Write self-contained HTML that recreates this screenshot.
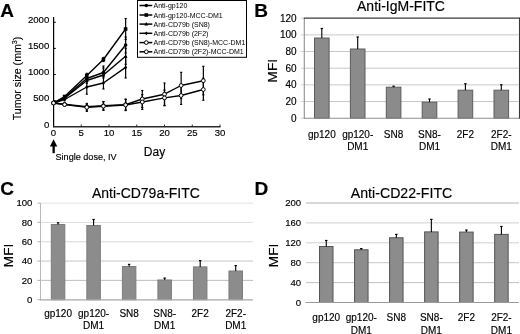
<!DOCTYPE html>
<html><head><meta charset="utf-8"><style>
html,body{margin:0;padding:0;background:#fff;}
svg{display:block;will-change:transform;}
text{font-family:"Liberation Sans", sans-serif;stroke:#000;stroke-width:0.15px;}
</style></head><body>
<svg width="520" height="334" viewBox="0 0 520 334" font-family="Liberation Sans, sans-serif">
<rect width="520" height="334" fill="#fff"/>
<text x="0.2" y="16.8" font-size="19" text-anchor="start" font-weight="bold" fill="#000" >A</text>
<line x1="53.6" y1="17" x2="53.6" y2="127.3" stroke="#000" stroke-width="1.2" />
<line x1="53" y1="126.7" x2="220.5" y2="126.7" stroke="#2a2a2a" stroke-width="1.5" />
<line x1="53.6" y1="100.6" x2="55.8" y2="100.6" stroke="#000" stroke-width="1" />
<line x1="53.6" y1="74.5" x2="55.8" y2="74.5" stroke="#000" stroke-width="1" />
<line x1="53.6" y1="48.39999999999999" x2="55.8" y2="48.39999999999999" stroke="#000" stroke-width="1" />
<line x1="53.6" y1="22.299999999999997" x2="55.8" y2="22.299999999999997" stroke="#000" stroke-width="1" />
<line x1="81.25" y1="126.7" x2="81.25" y2="124.6" stroke="#222" stroke-width="1" />
<line x1="109.0" y1="126.7" x2="109.0" y2="124.6" stroke="#222" stroke-width="1" />
<line x1="136.75" y1="126.7" x2="136.75" y2="124.6" stroke="#222" stroke-width="1" />
<line x1="164.5" y1="126.7" x2="164.5" y2="124.6" stroke="#222" stroke-width="1" />
<line x1="192.25" y1="126.7" x2="192.25" y2="124.6" stroke="#222" stroke-width="1" />
<line x1="220.0" y1="126.7" x2="220.0" y2="124.6" stroke="#222" stroke-width="1" />
<text x="49.3" y="127.5" font-size="9.6" text-anchor="end" font-weight="normal" fill="#000" >0</text>
<text x="49.3" y="101.39999999999999" font-size="9.6" text-anchor="end" font-weight="normal" fill="#000" >500</text>
<text x="49.3" y="75.3" font-size="9.6" text-anchor="end" font-weight="normal" fill="#000" >1000</text>
<text x="49.3" y="49.19999999999999" font-size="9.6" text-anchor="end" font-weight="normal" fill="#000" >1500</text>
<text x="49.3" y="23.099999999999998" font-size="9.6" text-anchor="end" font-weight="normal" fill="#000" >2000</text>
<text x="53.5" y="135.9" font-size="9.6" text-anchor="middle" font-weight="normal" fill="#000" >0</text>
<text x="81.25" y="135.9" font-size="9.6" text-anchor="middle" font-weight="normal" fill="#000" >5</text>
<text x="109.0" y="135.9" font-size="9.6" text-anchor="middle" font-weight="normal" fill="#000" >10</text>
<text x="136.75" y="135.9" font-size="9.6" text-anchor="middle" font-weight="normal" fill="#000" >15</text>
<text x="164.5" y="135.9" font-size="9.6" text-anchor="middle" font-weight="normal" fill="#000" >20</text>
<text x="192.25" y="135.9" font-size="9.6" text-anchor="middle" font-weight="normal" fill="#000" >25</text>
<text x="220.0" y="135.9" font-size="9.6" text-anchor="middle" font-weight="normal" fill="#000" >30</text>
<text x="154.5" y="156" font-size="12" text-anchor="middle" font-weight="normal" fill="#000" >Day</text>
<text transform="translate(20.8,78.5) rotate(-90)" font-size="10.6" text-anchor="middle">Tumor size (mm<tspan font-size="7.2" dy="-3.9">3</tspan><tspan dy="3.9">)</tspan></text>
<polygon points="53.6,139.3 49.9,146.6 57.3,146.6" fill="#000"/>
<rect x="52.5" y="146" width="2.3" height="7.2" fill="#000"/>
<text x="55.5" y="159.6" font-size="9.1" text-anchor="start" font-weight="normal" fill="#000" >Single dose, IV</text>
<line x1="64.6" y1="95.8" x2="64.6" y2="99.5" stroke="#000" stroke-width="1.2" />
<line x1="63.49999999999999" y1="95.8" x2="65.69999999999999" y2="95.8" stroke="#000" stroke-width="1.1" />
<line x1="63.49999999999999" y1="99.5" x2="65.69999999999999" y2="99.5" stroke="#000" stroke-width="1.1" />
<line x1="64.6" y1="96.5" x2="64.6" y2="100.8" stroke="#000" stroke-width="1.2" />
<line x1="63.49999999999999" y1="96.5" x2="65.69999999999999" y2="96.5" stroke="#000" stroke-width="1.1" />
<line x1="63.49999999999999" y1="100.8" x2="65.69999999999999" y2="100.8" stroke="#000" stroke-width="1.1" />
<line x1="86.8" y1="73.3" x2="86.8" y2="77.7" stroke="#000" stroke-width="1.2" />
<line x1="85.7" y1="73.3" x2="87.89999999999999" y2="73.3" stroke="#000" stroke-width="1.1" />
<line x1="85.7" y1="77.7" x2="87.89999999999999" y2="77.7" stroke="#000" stroke-width="1.1" />
<line x1="86.8" y1="74.5" x2="86.8" y2="80.5" stroke="#000" stroke-width="1.2" />
<line x1="85.7" y1="74.5" x2="87.89999999999999" y2="74.5" stroke="#000" stroke-width="1.1" />
<line x1="85.7" y1="80.5" x2="87.89999999999999" y2="80.5" stroke="#000" stroke-width="1.1" />
<line x1="86.8" y1="75.5" x2="86.8" y2="83.5" stroke="#000" stroke-width="1.2" />
<line x1="85.7" y1="75.5" x2="87.89999999999999" y2="75.5" stroke="#000" stroke-width="1.1" />
<line x1="85.7" y1="83.5" x2="87.89999999999999" y2="83.5" stroke="#000" stroke-width="1.1" />
<line x1="86.8" y1="81.8" x2="86.8" y2="94.2" stroke="#000" stroke-width="1.2" />
<line x1="85.7" y1="81.8" x2="87.89999999999999" y2="81.8" stroke="#000" stroke-width="1.1" />
<line x1="85.7" y1="94.2" x2="87.89999999999999" y2="94.2" stroke="#000" stroke-width="1.1" />
<line x1="86.8" y1="103.4" x2="86.8" y2="110.2" stroke="#000" stroke-width="1.2" />
<line x1="85.7" y1="103.4" x2="87.89999999999999" y2="103.4" stroke="#000" stroke-width="1.1" />
<line x1="85.7" y1="110.2" x2="87.89999999999999" y2="110.2" stroke="#000" stroke-width="1.1" />
<line x1="86.8" y1="104" x2="86.8" y2="111.4" stroke="#000" stroke-width="1.2" />
<line x1="85.7" y1="104" x2="87.89999999999999" y2="104" stroke="#000" stroke-width="1.1" />
<line x1="85.7" y1="111.4" x2="87.89999999999999" y2="111.4" stroke="#000" stroke-width="1.1" />
<line x1="103.44999999999999" y1="57.4" x2="103.44999999999999" y2="61.6" stroke="#000" stroke-width="1.2" />
<line x1="102.35" y1="57.4" x2="104.54999999999998" y2="57.4" stroke="#000" stroke-width="1.1" />
<line x1="102.35" y1="61.6" x2="104.54999999999998" y2="61.6" stroke="#000" stroke-width="1.1" />
<line x1="103.44999999999999" y1="66" x2="103.44999999999999" y2="76" stroke="#000" stroke-width="1.2" />
<line x1="102.35" y1="66" x2="104.54999999999998" y2="66" stroke="#000" stroke-width="1.1" />
<line x1="102.35" y1="76" x2="104.54999999999998" y2="76" stroke="#000" stroke-width="1.1" />
<line x1="103.44999999999999" y1="68" x2="103.44999999999999" y2="78" stroke="#000" stroke-width="1.2" />
<line x1="102.35" y1="68" x2="104.54999999999998" y2="68" stroke="#000" stroke-width="1.1" />
<line x1="102.35" y1="78" x2="104.54999999999998" y2="78" stroke="#000" stroke-width="1.1" />
<line x1="103.44999999999999" y1="75" x2="103.44999999999999" y2="89" stroke="#000" stroke-width="1.2" />
<line x1="102.35" y1="75" x2="104.54999999999998" y2="75" stroke="#000" stroke-width="1.1" />
<line x1="102.35" y1="89" x2="104.54999999999998" y2="89" stroke="#000" stroke-width="1.1" />
<line x1="103.44999999999999" y1="101.7" x2="103.44999999999999" y2="109.9" stroke="#000" stroke-width="1.2" />
<line x1="102.35" y1="101.7" x2="104.54999999999998" y2="101.7" stroke="#000" stroke-width="1.1" />
<line x1="102.35" y1="109.9" x2="104.54999999999998" y2="109.9" stroke="#000" stroke-width="1.1" />
<line x1="103.44999999999999" y1="101.6" x2="103.44999999999999" y2="110.4" stroke="#000" stroke-width="1.2" />
<line x1="102.35" y1="101.6" x2="104.54999999999998" y2="101.6" stroke="#000" stroke-width="1.1" />
<line x1="102.35" y1="110.4" x2="104.54999999999998" y2="110.4" stroke="#000" stroke-width="1.1" />
<line x1="125.64999999999999" y1="18.5" x2="125.64999999999999" y2="39.5" stroke="#000" stroke-width="1.2" />
<line x1="124.55" y1="18.5" x2="126.74999999999999" y2="18.5" stroke="#000" stroke-width="1.1" />
<line x1="124.55" y1="39.5" x2="126.74999999999999" y2="39.5" stroke="#000" stroke-width="1.1" />
<line x1="125.64999999999999" y1="37" x2="125.64999999999999" y2="53" stroke="#000" stroke-width="1.2" />
<line x1="124.55" y1="37" x2="126.74999999999999" y2="37" stroke="#000" stroke-width="1.1" />
<line x1="124.55" y1="53" x2="126.74999999999999" y2="53" stroke="#000" stroke-width="1.1" />
<line x1="125.64999999999999" y1="48.3" x2="125.64999999999999" y2="64.3" stroke="#000" stroke-width="1.2" />
<line x1="124.55" y1="48.3" x2="126.74999999999999" y2="48.3" stroke="#000" stroke-width="1.1" />
<line x1="124.55" y1="64.3" x2="126.74999999999999" y2="64.3" stroke="#000" stroke-width="1.1" />
<line x1="125.64999999999999" y1="56.8" x2="125.64999999999999" y2="78" stroke="#000" stroke-width="1.2" />
<line x1="124.55" y1="56.8" x2="126.74999999999999" y2="56.8" stroke="#000" stroke-width="1.1" />
<line x1="124.55" y1="78" x2="126.74999999999999" y2="78" stroke="#000" stroke-width="1.1" />
<line x1="125.64999999999999" y1="99.1" x2="125.64999999999999" y2="109.9" stroke="#000" stroke-width="1.2" />
<line x1="124.55" y1="99.1" x2="126.74999999999999" y2="99.1" stroke="#000" stroke-width="1.1" />
<line x1="124.55" y1="109.9" x2="126.74999999999999" y2="109.9" stroke="#000" stroke-width="1.1" />
<line x1="125.64999999999999" y1="99.4" x2="125.64999999999999" y2="110.6" stroke="#000" stroke-width="1.2" />
<line x1="124.55" y1="99.4" x2="126.74999999999999" y2="99.4" stroke="#000" stroke-width="1.1" />
<line x1="124.55" y1="110.6" x2="126.74999999999999" y2="110.6" stroke="#000" stroke-width="1.1" />
<line x1="142.3" y1="90.5" x2="142.3" y2="107.5" stroke="#000" stroke-width="1.2" />
<line x1="141.20000000000002" y1="90.5" x2="143.4" y2="90.5" stroke="#000" stroke-width="1.1" />
<line x1="141.20000000000002" y1="107.5" x2="143.4" y2="107.5" stroke="#000" stroke-width="1.1" />
<line x1="142.3" y1="94.6" x2="142.3" y2="109.4" stroke="#000" stroke-width="1.2" />
<line x1="141.20000000000002" y1="94.6" x2="143.4" y2="94.6" stroke="#000" stroke-width="1.1" />
<line x1="141.20000000000002" y1="109.4" x2="143.4" y2="109.4" stroke="#000" stroke-width="1.1" />
<line x1="164.5" y1="83" x2="164.5" y2="105.4" stroke="#000" stroke-width="1.2" />
<line x1="163.4" y1="83" x2="165.6" y2="83" stroke="#000" stroke-width="1.1" />
<line x1="163.4" y1="105.4" x2="165.6" y2="105.4" stroke="#000" stroke-width="1.1" />
<line x1="164.5" y1="90" x2="164.5" y2="105.8" stroke="#000" stroke-width="1.2" />
<line x1="163.4" y1="90" x2="165.6" y2="90" stroke="#000" stroke-width="1.1" />
<line x1="163.4" y1="105.8" x2="165.6" y2="105.8" stroke="#000" stroke-width="1.1" />
<line x1="181.14999999999998" y1="72.3" x2="181.14999999999998" y2="98.7" stroke="#000" stroke-width="1.2" />
<line x1="180.04999999999998" y1="72.3" x2="182.24999999999997" y2="72.3" stroke="#000" stroke-width="1.1" />
<line x1="180.04999999999998" y1="98.7" x2="182.24999999999997" y2="98.7" stroke="#000" stroke-width="1.1" />
<line x1="181.14999999999998" y1="86.4" x2="181.14999999999998" y2="104.4" stroke="#000" stroke-width="1.2" />
<line x1="180.04999999999998" y1="86.4" x2="182.24999999999997" y2="86.4" stroke="#000" stroke-width="1.1" />
<line x1="180.04999999999998" y1="104.4" x2="182.24999999999997" y2="104.4" stroke="#000" stroke-width="1.1" />
<line x1="203.35" y1="66.3" x2="203.35" y2="94.9" stroke="#000" stroke-width="1.2" />
<line x1="202.25" y1="66.3" x2="204.45" y2="66.3" stroke="#000" stroke-width="1.1" />
<line x1="202.25" y1="94.9" x2="204.45" y2="94.9" stroke="#000" stroke-width="1.1" />
<line x1="203.35" y1="78.3" x2="203.35" y2="100.3" stroke="#000" stroke-width="1.2" />
<line x1="202.25" y1="78.3" x2="204.45" y2="78.3" stroke="#000" stroke-width="1.1" />
<line x1="202.25" y1="100.3" x2="204.45" y2="100.3" stroke="#000" stroke-width="1.1" />
<polyline points="53.5,103 64.6,97.5 86.8,78.5 103.4,72.5 125.6,45" fill="none" stroke="#000" stroke-width="1.4" stroke-linejoin="round"/>
<polyline points="53.5,103 64.6,96.5 86.8,75.5 103.4,59.5 125.6,29" fill="none" stroke="#000" stroke-width="1.4" stroke-linejoin="round"/>
<polyline points="53.5,103 64.6,98.2 86.8,80.5 103.4,75 125.6,56.3" fill="none" stroke="#000" stroke-width="1.4" stroke-linejoin="round"/>
<polyline points="53.5,103 64.6,99.5 86.8,87 103.4,83 125.6,67.4" fill="none" stroke="#000" stroke-width="1.4" stroke-linejoin="round"/>
<polyline points="53.5,103 64.6,104.3 86.8,106.8 103.4,105.8 125.6,104.6 142.3,99 164.5,94.2 181.1,85.5 203.3,80.7" fill="none" stroke="#000" stroke-width="1.4" stroke-linejoin="round"/>
<polyline points="53.5,103 64.6,104.6 86.8,107.4 103.4,106.2 125.6,105 142.3,102 164.5,97.9 181.1,95.5 203.3,89.5" fill="none" stroke="#000" stroke-width="1.4" stroke-linejoin="round"/>
<circle cx="53.5" cy="103" r="1.8" fill="#000"/>
<circle cx="64.6" cy="97.5" r="1.8" fill="#000"/>
<circle cx="86.8" cy="78.5" r="1.8" fill="#000"/>
<circle cx="103.4" cy="72.5" r="1.8" fill="#000"/>
<circle cx="125.6" cy="45" r="1.8" fill="#000"/>
<rect x="51.7" y="101.2" width="3.6" height="3.6" fill="#000"/>
<rect x="62.8" y="94.7" width="3.6" height="3.6" fill="#000"/>
<rect x="85.0" y="73.7" width="3.6" height="3.6" fill="#000"/>
<rect x="101.6" y="57.7" width="3.6" height="3.6" fill="#000"/>
<rect x="123.8" y="27.2" width="3.6" height="3.6" fill="#000"/>
<polygon points="53.5,101 51.6,104.4 55.4,104.4" fill="#000"/>
<polygon points="64.6,96.2 62.7,99.60000000000001 66.5,99.60000000000001" fill="#000"/>
<polygon points="86.8,78.5 84.9,81.9 88.7,81.9" fill="#000"/>
<polygon points="103.4,73 101.5,76.4 105.3,76.4" fill="#000"/>
<polygon points="125.6,54.3 123.7,57.699999999999996 127.5,57.699999999999996" fill="#000"/>
<polygon points="53.5,101.1 55.1,103 53.5,104.9 51.9,103" fill="#000"/>
<polygon points="64.6,97.6 66.2,99.5 64.6,101.4 63.0,99.5" fill="#000"/>
<polygon points="86.8,85.1 88.4,87 86.8,88.9 85.2,87" fill="#000"/>
<polygon points="103.4,81.1 105.0,83 103.4,84.9 101.8,83" fill="#000"/>
<polygon points="125.6,65.5 127.2,67.4 125.6,69.30000000000001 124.0,67.4" fill="#000"/>
<circle cx="53.5" cy="103" r="1.9" fill="#fff" stroke="#000" stroke-width="1"/>
<circle cx="64.6" cy="104.3" r="1.9" fill="#fff" stroke="#000" stroke-width="1"/>
<circle cx="86.8" cy="106.8" r="1.9" fill="#fff" stroke="#000" stroke-width="1"/>
<circle cx="103.4" cy="105.8" r="1.9" fill="#fff" stroke="#000" stroke-width="1"/>
<circle cx="125.6" cy="104.6" r="1.9" fill="#fff" stroke="#000" stroke-width="1"/>
<circle cx="142.3" cy="99" r="1.9" fill="#fff" stroke="#000" stroke-width="1"/>
<circle cx="164.5" cy="94.2" r="1.9" fill="#fff" stroke="#000" stroke-width="1"/>
<circle cx="181.1" cy="85.5" r="1.9" fill="#fff" stroke="#000" stroke-width="1"/>
<circle cx="203.3" cy="80.7" r="1.9" fill="#fff" stroke="#000" stroke-width="1"/>
<circle cx="53.5" cy="103" r="1.9" fill="#fff" stroke="#000" stroke-width="1"/>
<circle cx="64.6" cy="104.6" r="1.9" fill="#fff" stroke="#000" stroke-width="1"/>
<circle cx="86.8" cy="107.4" r="1.9" fill="#fff" stroke="#000" stroke-width="1"/>
<circle cx="103.4" cy="106.2" r="1.9" fill="#fff" stroke="#000" stroke-width="1"/>
<circle cx="125.6" cy="105" r="1.9" fill="#fff" stroke="#000" stroke-width="1"/>
<circle cx="142.3" cy="102" r="1.9" fill="#fff" stroke="#000" stroke-width="1"/>
<circle cx="164.5" cy="97.9" r="1.9" fill="#fff" stroke="#000" stroke-width="1"/>
<circle cx="181.1" cy="95.5" r="1.9" fill="#fff" stroke="#000" stroke-width="1"/>
<circle cx="203.3" cy="89.5" r="1.9" fill="#fff" stroke="#000" stroke-width="1"/>
<rect x="137.5" y="0.5" width="109" height="56.8" fill="#fff" stroke="#000" stroke-width="1"/>
<line x1="139.5" y1="5.5" x2="152.3" y2="5.5" stroke="#000" stroke-width="1.5" />
<circle cx="146.3" cy="5.5" r="1.8" fill="#000"/>
<text x="153.5" y="8.0" font-size="7" text-anchor="start" font-weight="normal" fill="#000" style="stroke:none">Anti-gp120</text>
<line x1="139.5" y1="15" x2="152.3" y2="15" stroke="#000" stroke-width="1.5" />
<rect x="144.5" y="13.2" width="3.6" height="3.6" fill="#000"/>
<text x="153.5" y="17.5" font-size="7" text-anchor="start" font-weight="normal" fill="#000" style="stroke:none">Anti-gp120-MCC-DM1</text>
<line x1="139.5" y1="24.1" x2="152.3" y2="24.1" stroke="#000" stroke-width="1.5" />
<polygon points="146.3,22.1 144.4,25.5 148.2,25.5" fill="#000"/>
<text x="153.5" y="26.6" font-size="7" text-anchor="start" font-weight="normal" fill="#000" style="stroke:none">Anti-CD79b (SN8)</text>
<line x1="139.5" y1="33.3" x2="152.3" y2="33.3" stroke="#000" stroke-width="1.5" />
<polygon points="146.3,31.4 147.9,33.3 146.3,35.199999999999996 144.7,33.3" fill="#000"/>
<text x="153.5" y="35.8" font-size="7" text-anchor="start" font-weight="normal" fill="#000" style="stroke:none">Anti-CD79b (2F2)</text>
<line x1="139.5" y1="42.6" x2="152.3" y2="42.6" stroke="#000" stroke-width="1.5" />
<circle cx="146.3" cy="42.6" r="1.9" fill="#fff" stroke="#000" stroke-width="1"/>
<text x="153.5" y="45.1" font-size="7" text-anchor="start" font-weight="normal" fill="#000" style="stroke:none">Anti-CD79b (SN8)-MCC-DM1</text>
<line x1="139.5" y1="51.8" x2="152.3" y2="51.8" stroke="#000" stroke-width="1.5" />
<circle cx="146.3" cy="51.8" r="1.9" fill="#fff" stroke="#000" stroke-width="1"/>
<text x="153.5" y="54.3" font-size="7" text-anchor="start" font-weight="normal" fill="#000" style="stroke:none">Anti-CD79b (2F2)-MCC-DM1</text>
<text x="254.3" y="16.6" font-size="19" text-anchor="start" font-weight="bold" fill="#000" >B</text>
<text x="357" y="10.6" font-size="13.8" text-anchor="start" font-weight="normal" fill="#000" textLength="88" lengthAdjust="spacingAndGlyphs">Anti-IgM-FITC</text>
<line x1="304.5" y1="101.53333333333333" x2="518.5" y2="101.53333333333333" stroke="#c8c8c8" stroke-width="1" />
<line x1="304.5" y1="84.86666666666667" x2="518.5" y2="84.86666666666667" stroke="#c8c8c8" stroke-width="1" />
<line x1="304.5" y1="68.2" x2="518.5" y2="68.2" stroke="#c8c8c8" stroke-width="1" />
<line x1="304.5" y1="51.53333333333333" x2="518.5" y2="51.53333333333333" stroke="#c8c8c8" stroke-width="1" />
<line x1="304.5" y1="34.86666666666666" x2="518.5" y2="34.86666666666666" stroke="#c8c8c8" stroke-width="1" />
<line x1="300.8" y1="118.2" x2="304.3" y2="118.2" stroke="#d4d4d4" stroke-width="1" />
<text x="296.6" y="121.7" font-size="10" text-anchor="end" font-weight="normal" fill="#000" >0</text>
<line x1="300.8" y1="101.53333333333333" x2="304.3" y2="101.53333333333333" stroke="#d4d4d4" stroke-width="1" />
<text x="296.6" y="105.03333333333333" font-size="10" text-anchor="end" font-weight="normal" fill="#000" >20</text>
<line x1="300.8" y1="84.86666666666667" x2="304.3" y2="84.86666666666667" stroke="#d4d4d4" stroke-width="1" />
<text x="296.6" y="88.36666666666667" font-size="10" text-anchor="end" font-weight="normal" fill="#000" >40</text>
<line x1="300.8" y1="68.2" x2="304.3" y2="68.2" stroke="#d4d4d4" stroke-width="1" />
<text x="296.6" y="71.7" font-size="10" text-anchor="end" font-weight="normal" fill="#000" >60</text>
<line x1="300.8" y1="51.53333333333333" x2="304.3" y2="51.53333333333333" stroke="#d4d4d4" stroke-width="1" />
<text x="296.6" y="55.03333333333333" font-size="10" text-anchor="end" font-weight="normal" fill="#000" >80</text>
<line x1="300.8" y1="34.86666666666666" x2="304.3" y2="34.86666666666666" stroke="#d4d4d4" stroke-width="1" />
<text x="296.6" y="38.36666666666666" font-size="10" text-anchor="end" font-weight="normal" fill="#000" >100</text>
<line x1="300.8" y1="18.200000000000003" x2="304.3" y2="18.200000000000003" stroke="#d4d4d4" stroke-width="1" />
<text x="296.6" y="21.700000000000003" font-size="10" text-anchor="end" font-weight="normal" fill="#000" >120</text>
<rect x="314.50" y="38" width="14.6" height="80.20" fill="#8b8b8b" stroke="#5c5c5c" stroke-width="1"/>
<line x1="321.8" y1="28.5" x2="321.8" y2="38" stroke="#000" stroke-width="1.1" />
<line x1="320.6" y1="28.5" x2="323.0" y2="28.5" stroke="#000" stroke-width="1.2" />
<rect x="350.40" y="49" width="14.6" height="69.20" fill="#8b8b8b" stroke="#5c5c5c" stroke-width="1"/>
<line x1="357.70000000000005" y1="37" x2="357.70000000000005" y2="49" stroke="#000" stroke-width="1.1" />
<line x1="356.50000000000006" y1="37" x2="358.90000000000003" y2="37" stroke="#000" stroke-width="1.2" />
<rect x="386.30" y="87.2" width="14.6" height="31.00" fill="#8b8b8b" stroke="#5c5c5c" stroke-width="1"/>
<line x1="393.6" y1="86.2" x2="393.6" y2="87.2" stroke="#000" stroke-width="1.1" />
<line x1="392.40000000000003" y1="86.2" x2="394.8" y2="86.2" stroke="#000" stroke-width="1.2" />
<rect x="422.20" y="102.2" width="14.6" height="16.00" fill="#8b8b8b" stroke="#5c5c5c" stroke-width="1"/>
<line x1="429.5" y1="99" x2="429.5" y2="102.2" stroke="#000" stroke-width="1.1" />
<line x1="428.3" y1="99" x2="430.7" y2="99" stroke="#000" stroke-width="1.2" />
<rect x="458.10" y="90.2" width="14.6" height="28.00" fill="#8b8b8b" stroke="#5c5c5c" stroke-width="1"/>
<line x1="465.4" y1="83.8" x2="465.4" y2="90.2" stroke="#000" stroke-width="1.1" />
<line x1="464.2" y1="83.8" x2="466.59999999999997" y2="83.8" stroke="#000" stroke-width="1.2" />
<rect x="494.00" y="90.2" width="14.6" height="28.00" fill="#8b8b8b" stroke="#5c5c5c" stroke-width="1"/>
<line x1="501.3" y1="84.8" x2="501.3" y2="90.2" stroke="#000" stroke-width="1.1" />
<line x1="500.1" y1="84.8" x2="502.5" y2="84.8" stroke="#000" stroke-width="1.2" />
<line x1="304.3" y1="18.2" x2="304.3" y2="118.7" stroke="#8f8f8f" stroke-width="1.1" />
<line x1="303.8" y1="118.2" x2="519" y2="118.2" stroke="#8f8f8f" stroke-width="1.1" />
<line x1="303.8" y1="18.2" x2="519.5" y2="18.2" stroke="#3a3a3a" stroke-width="1.2" />
<line x1="519.5" y1="17.6" x2="519.5" y2="118.7" stroke="#3a3a3a" stroke-width="1.1" />
<text transform="translate(276.6,70.7) rotate(-90)" font-size="13" text-anchor="middle" textLength="23.5" lengthAdjust="spacingAndGlyphs">MFI</text>
<text x="321.8" y="137.5" font-size="10" text-anchor="middle" font-weight="normal" fill="#000" >gp120</text>
<text x="357.70000000000005" y="137.5" font-size="10" text-anchor="middle" font-weight="normal" fill="#000" >gp120-</text>
<text x="357.70000000000005" y="150" font-size="10" text-anchor="middle" font-weight="normal" fill="#000" >DM1</text>
<text x="393.6" y="137.5" font-size="10" text-anchor="middle" font-weight="normal" fill="#000" >SN8</text>
<text x="429.5" y="137.5" font-size="10" text-anchor="middle" font-weight="normal" fill="#000" >SN8-</text>
<text x="429.5" y="150" font-size="10" text-anchor="middle" font-weight="normal" fill="#000" >DM1</text>
<text x="465.4" y="137.5" font-size="10" text-anchor="middle" font-weight="normal" fill="#000" >2F2</text>
<text x="501.3" y="137.5" font-size="10" text-anchor="middle" font-weight="normal" fill="#000" >2F2-</text>
<text x="501.3" y="150" font-size="10" text-anchor="middle" font-weight="normal" fill="#000" >DM1</text>
<text x="0.3" y="195.1" font-size="19" text-anchor="start" font-weight="bold" fill="#000" >C</text>
<text x="91.9" y="197.7" font-size="13.8" text-anchor="start" font-weight="normal" fill="#000" textLength="108" lengthAdjust="spacingAndGlyphs">Anti-CD79a-FITC</text>
<line x1="40.5" y1="280.38" x2="253" y2="280.38" stroke="#bdbdbd" stroke-width="1" />
<line x1="40.5" y1="261.06" x2="253" y2="261.06" stroke="#c6c6c6" stroke-width="1" />
<line x1="40.5" y1="241.73999999999998" x2="253" y2="241.73999999999998" stroke="#d8d8d8" stroke-width="1" />
<line x1="40.5" y1="222.42" x2="253" y2="222.42" stroke="#dcdcdc" stroke-width="1" />
<line x1="40.5" y1="203.1" x2="253" y2="203.1" stroke="#e0e0e0" stroke-width="1" />
<line x1="37.5" y1="299.7" x2="40.5" y2="299.7" stroke="#b0b0b0" stroke-width="1" />
<text x="32.4" y="303.0" font-size="9.6" text-anchor="end" font-weight="normal" fill="#000" >0</text>
<line x1="37.5" y1="280.38" x2="40.5" y2="280.38" stroke="#b0b0b0" stroke-width="1" />
<text x="32.4" y="283.68" font-size="9.6" text-anchor="end" font-weight="normal" fill="#000" >20</text>
<line x1="37.5" y1="261.06" x2="40.5" y2="261.06" stroke="#b0b0b0" stroke-width="1" />
<text x="32.4" y="264.36" font-size="9.6" text-anchor="end" font-weight="normal" fill="#000" >40</text>
<line x1="37.5" y1="241.73999999999998" x2="40.5" y2="241.73999999999998" stroke="#b0b0b0" stroke-width="1" />
<text x="32.4" y="245.04" font-size="9.6" text-anchor="end" font-weight="normal" fill="#000" >60</text>
<line x1="37.5" y1="222.42" x2="40.5" y2="222.42" stroke="#b0b0b0" stroke-width="1" />
<text x="32.4" y="225.72" font-size="9.6" text-anchor="end" font-weight="normal" fill="#000" >80</text>
<line x1="37.5" y1="203.1" x2="40.5" y2="203.1" stroke="#b0b0b0" stroke-width="1" />
<text x="32.4" y="206.4" font-size="9.6" text-anchor="end" font-weight="normal" fill="#000" >100</text>
<rect x="51.31" y="224.5" width="13.5" height="75.20" fill="#8c8c8c" stroke="#7c7c7c" stroke-width="1"/>
<line x1="58.065" y1="222.8" x2="58.065" y2="224.5" stroke="#000" stroke-width="1.1" />
<line x1="56.864999999999995" y1="222.8" x2="59.265" y2="222.8" stroke="#000" stroke-width="1.2" />
<rect x="86.84" y="225.5" width="13.5" height="74.20" fill="#8c8c8c" stroke="#7c7c7c" stroke-width="1"/>
<line x1="93.595" y1="219.5" x2="93.595" y2="225.5" stroke="#000" stroke-width="1.1" />
<line x1="92.395" y1="219.5" x2="94.795" y2="219.5" stroke="#000" stroke-width="1.2" />
<rect x="122.38" y="266.5" width="13.5" height="33.20" fill="#8c8c8c" stroke="#7c7c7c" stroke-width="1"/>
<line x1="129.125" y1="264.4" x2="129.125" y2="266.5" stroke="#000" stroke-width="1.1" />
<line x1="127.925" y1="264.4" x2="130.325" y2="264.4" stroke="#000" stroke-width="1.2" />
<rect x="157.91" y="280" width="13.5" height="19.70" fill="#8c8c8c" stroke="#7c7c7c" stroke-width="1"/>
<line x1="164.655" y1="278.1" x2="164.655" y2="280" stroke="#000" stroke-width="1.1" />
<line x1="163.455" y1="278.1" x2="165.855" y2="278.1" stroke="#000" stroke-width="1.2" />
<rect x="193.44" y="266.9" width="13.5" height="32.80" fill="#8c8c8c" stroke="#7c7c7c" stroke-width="1"/>
<line x1="200.185" y1="260.6" x2="200.185" y2="266.9" stroke="#000" stroke-width="1.1" />
<line x1="198.985" y1="260.6" x2="201.385" y2="260.6" stroke="#000" stroke-width="1.2" />
<rect x="228.97" y="271" width="13.5" height="28.70" fill="#8c8c8c" stroke="#7c7c7c" stroke-width="1"/>
<line x1="235.71500000000003" y1="265.6" x2="235.71500000000003" y2="271" stroke="#000" stroke-width="1.1" />
<line x1="234.51500000000004" y1="265.6" x2="236.91500000000002" y2="265.6" stroke="#000" stroke-width="1.2" />
<line x1="40.5" y1="203.1" x2="40.5" y2="300.2" stroke="#b8b8b8" stroke-width="1" />
<line x1="40" y1="299.9" x2="253" y2="299.9" stroke="#a8a8a8" stroke-width="1.3" />
<text transform="translate(13.4,255.5) rotate(-90)" font-size="13" text-anchor="middle" textLength="23.5" lengthAdjust="spacingAndGlyphs">MFI</text>
<text x="58.065" y="317.3" font-size="10" text-anchor="middle" font-weight="normal" fill="#000" >gp120</text>
<text x="93.595" y="317.3" font-size="10" text-anchor="middle" font-weight="normal" fill="#000" >gp120-</text>
<text x="93.595" y="329.3" font-size="10" text-anchor="middle" font-weight="normal" fill="#000" >DM1</text>
<text x="129.125" y="317.3" font-size="10" text-anchor="middle" font-weight="normal" fill="#000" >SN8</text>
<text x="164.655" y="317.3" font-size="10" text-anchor="middle" font-weight="normal" fill="#000" >SN8-</text>
<text x="164.655" y="329.3" font-size="10" text-anchor="middle" font-weight="normal" fill="#000" >DM1</text>
<text x="200.185" y="317.3" font-size="10" text-anchor="middle" font-weight="normal" fill="#000" >2F2</text>
<text x="235.71500000000003" y="317.3" font-size="10" text-anchor="middle" font-weight="normal" fill="#000" >2F2-</text>
<text x="235.71500000000003" y="329.3" font-size="10" text-anchor="middle" font-weight="normal" fill="#000" >DM1</text>
<text x="254.4" y="195.3" font-size="19" text-anchor="start" font-weight="bold" fill="#000" >D</text>
<text x="350.8" y="197.7" font-size="13.8" text-anchor="start" font-weight="normal" fill="#000" textLength="101.5" lengthAdjust="spacingAndGlyphs">Anti-CD22-FITC</text>
<line x1="306" y1="282.6" x2="519" y2="282.6" stroke="#c2c2c2" stroke-width="1" />
<line x1="306" y1="262.7" x2="519" y2="262.7" stroke="#c8c8c8" stroke-width="1" />
<line x1="306" y1="242.8" x2="519" y2="242.8" stroke="#d0d0d0" stroke-width="1" />
<line x1="306" y1="222.9" x2="519" y2="222.9" stroke="#d0d0d0" stroke-width="1" />
<line x1="306" y1="203.0" x2="519" y2="203.0" stroke="#b4b4b4" stroke-width="1" />
<text x="301.2" y="305.9" font-size="9.6" text-anchor="end" font-weight="normal" fill="#000" >0</text>
<text x="301.2" y="286.0" font-size="9.6" text-anchor="end" font-weight="normal" fill="#000" >40</text>
<text x="301.2" y="266.09999999999997" font-size="9.6" text-anchor="end" font-weight="normal" fill="#000" >80</text>
<text x="301.2" y="246.20000000000002" font-size="9.6" text-anchor="end" font-weight="normal" fill="#000" >120</text>
<text x="301.2" y="226.3" font-size="9.6" text-anchor="end" font-weight="normal" fill="#000" >160</text>
<text x="301.2" y="206.4" font-size="9.6" text-anchor="end" font-weight="normal" fill="#000" >200</text>
<rect x="319.51" y="246.5" width="13.5" height="56.00" fill="#8c8c8c" stroke="#555" stroke-width="1"/>
<line x1="326.265" y1="240.5" x2="326.265" y2="246.5" stroke="#000" stroke-width="1.1" />
<line x1="325.065" y1="240.5" x2="327.465" y2="240.5" stroke="#000" stroke-width="1.2" />
<rect x="354.55" y="249.8" width="13.5" height="52.70" fill="#8c8c8c" stroke="#555" stroke-width="1"/>
<line x1="361.295" y1="248.6" x2="361.295" y2="249.8" stroke="#000" stroke-width="1.1" />
<line x1="360.095" y1="248.6" x2="362.495" y2="248.6" stroke="#000" stroke-width="1.2" />
<rect x="389.57" y="237.75" width="13.5" height="64.75" fill="#8c8c8c" stroke="#555" stroke-width="1"/>
<line x1="396.325" y1="234.4" x2="396.325" y2="237.75" stroke="#000" stroke-width="1.1" />
<line x1="395.125" y1="234.4" x2="397.525" y2="234.4" stroke="#000" stroke-width="1.2" />
<rect x="424.61" y="231.9" width="13.5" height="70.60" fill="#8c8c8c" stroke="#555" stroke-width="1"/>
<line x1="431.355" y1="219.4" x2="431.355" y2="231.9" stroke="#000" stroke-width="1.1" />
<line x1="430.15500000000003" y1="219.4" x2="432.555" y2="219.4" stroke="#000" stroke-width="1.2" />
<rect x="459.63" y="232.1" width="13.5" height="70.40" fill="#8c8c8c" stroke="#555" stroke-width="1"/>
<line x1="466.385" y1="230" x2="466.385" y2="232.1" stroke="#000" stroke-width="1.1" />
<line x1="465.185" y1="230" x2="467.585" y2="230" stroke="#000" stroke-width="1.2" />
<rect x="494.67" y="234.4" width="13.5" height="68.10" fill="#8c8c8c" stroke="#555" stroke-width="1"/>
<line x1="501.415" y1="226.5" x2="501.415" y2="234.4" stroke="#000" stroke-width="1.1" />
<line x1="500.21500000000003" y1="226.5" x2="502.615" y2="226.5" stroke="#000" stroke-width="1.2" />
<line x1="305.5" y1="302.5" x2="519" y2="302.5" stroke="#999" stroke-width="1.1" />
<text transform="translate(278.1,255.4) rotate(-90)" font-size="13" text-anchor="middle" textLength="23.5" lengthAdjust="spacingAndGlyphs">MFI</text>
<text x="326.265" y="321.3" font-size="10" text-anchor="middle" font-weight="normal" fill="#000" >gp120</text>
<text x="361.295" y="321.3" font-size="10" text-anchor="middle" font-weight="normal" fill="#000" >gp120-</text>
<text x="361.295" y="333.9" font-size="10" text-anchor="middle" font-weight="normal" fill="#000" >DM1</text>
<text x="396.325" y="321.3" font-size="10" text-anchor="middle" font-weight="normal" fill="#000" >SN8</text>
<text x="431.355" y="321.3" font-size="10" text-anchor="middle" font-weight="normal" fill="#000" >SN8-</text>
<text x="431.355" y="333.9" font-size="10" text-anchor="middle" font-weight="normal" fill="#000" >DM1</text>
<text x="466.385" y="321.3" font-size="10" text-anchor="middle" font-weight="normal" fill="#000" >2F2</text>
<text x="501.415" y="321.3" font-size="10" text-anchor="middle" font-weight="normal" fill="#000" >2F2-</text>
<text x="501.415" y="333.9" font-size="10" text-anchor="middle" font-weight="normal" fill="#000" >DM1</text>
</svg></body></html>
